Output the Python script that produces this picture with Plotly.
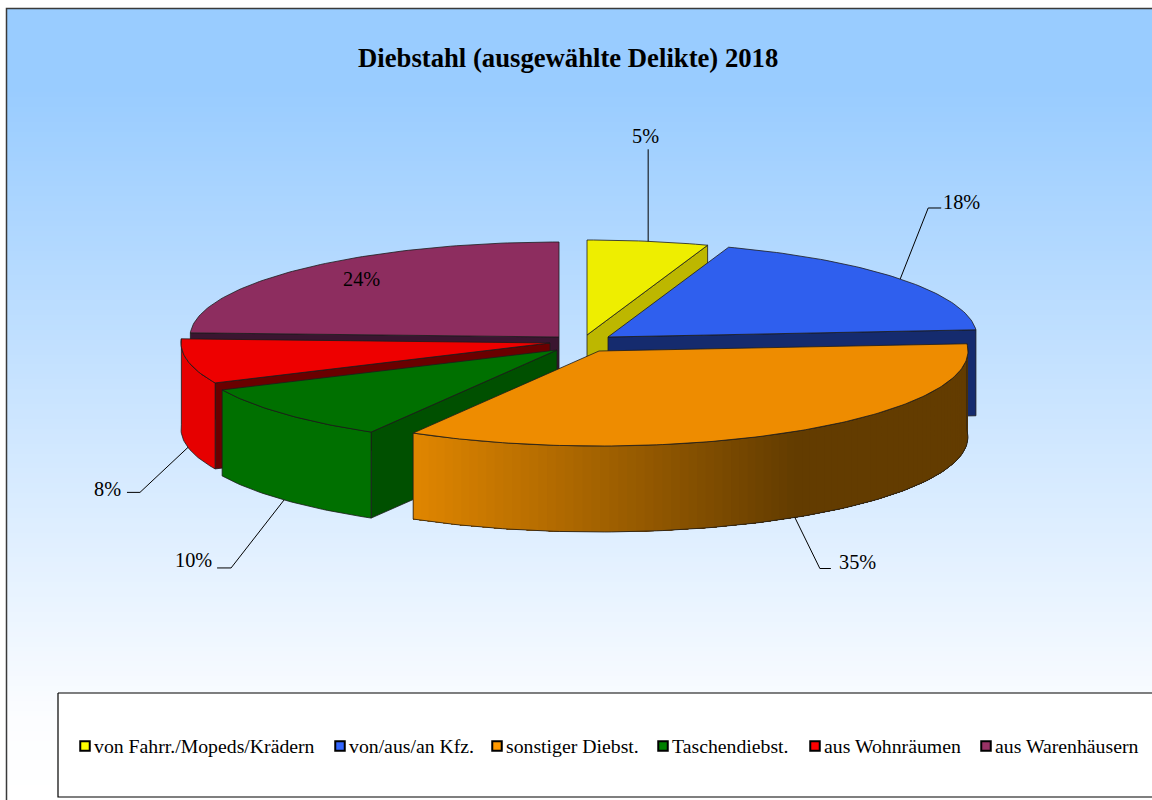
import math
import plotly.graph_objects as go

# ---- data ----
categories = ["von Fahrr./Mopeds/Krädern", "von/aus/an Kfz.", "sonstiger Diebst.",
              "Taschendiebst.", "aus Wohnräumen", "aus Warenhäusern"]
values = [5.3, 18.49, 34.61, 9.7, 7.6, 24.3]
title_text = "Diebstahl (ausgewählte Delikte) 2018"

# ---- styles ----
top_colors = ["#EEEE00", "#2F5FEE", "#EE8C00", "#007000", "#EE0000", "#8D2D5F"]
side_colors = ["#BDBD00", "#2F5FEE", "#633C00", "#007000", "#E60000", "#8D2D5F"]
face_colors = ["#BDB700", "#152B6E", "#633C00", "#005000", "#6A0000", "#3A1530"]
legend_colors = ["#FFFF00", "#3366FF", "#FF9900", "#008000", "#FF0000", "#993366"]
FONT = "Liberation Serif, Times New Roman, serif"
EDGE = "#1c1c1c"

# ---- pie projection ----
CX, CY = 575, 344
RX, RY, DEPTH = 369, 95, 86
pull_x = [12, 33, 24, -18, -25, -16]
pull_y = [-9, -7, 7, 6, -1, -7]
draw_order = [5, 0, 1, 4, 3, 2]

# ---- label layout: elbow and end offsets from the rim anchor; label centres ----
elbow = [(0, -92), (28, -71), (25, 51), (-53, 68), (-48, 45), None]
tail = [0, 13, 11, -14, -13, 0]
label_pos = [(645, 136), (961, 202), (857, 562), (193, 560), (107, 489), (361, 279)]
legend_x = [85, 340, 497, 663, 815, 986]
LEGEND_Y = 746


def rim(i, t, dz=0.0):
    r = math.radians(t)
    return (CX + pull_x[i] + RX * math.sin(r),
            CY + pull_y[i] - RY * math.cos(r) + dz)


def arc(i, a, b, dz=0.0, n=None):
    n = n or max(2, int(abs(b - a)) + 1)
    return [rim(i, a + (b - a) * k / (n - 1), dz) for k in range(n)]


def poly(pts, fill, line=EDGE, width=0.8):
    xs = [p[0] for p in pts] + [pts[0][0]]
    ys = [p[1] for p in pts] + [pts[0][1]]
    return go.Scatter(x=xs, y=ys, mode="lines", fill="toself", fillcolor=fill,
                      line=dict(color=line, width=width), hoverinfo="skip", showlegend=False)


total = sum(values)
starts, ends, acc = [], [], 0.0
for v in values:
    starts.append(acc / total * 360)
    acc += v
    ends.append(acc / total * 360)

fig = go.Figure()

# background gradient
rows = 160
y_edges = [8 + (800 - 8) * k / rows for k in range(rows + 1)]
fig.add_trace(go.Heatmap(x=[6, 1152], y=y_edges, z=[[k / (rows - 1)] for k in range(rows)],
                         colorscale=[[0, "#99CCFF"], [0.1, "#99CCFF"], [0.9, "#FCFDFF"], [1, "#FFFFFF"]],
                         showscale=False, hoverinfo="skip", zmin=0, zmax=1))

# legend box
fig.add_trace(poly([(58, 693), (1160, 693), (1160, 797), (58, 797)], "#FFFFFF", line="#000000", width=1.2))

for i in draw_order:
    a, b = starts[i], ends[i]
    ax = CX + pull_x[i]
    ay = CY + pull_y[i]
    # cut faces
    if 180 < a < 360:
        p = rim(i, a)
        fig.add_trace(poly([(ax, ay), p, (p[0], p[1] + DEPTH), (ax, ay + DEPTH)], face_colors[i]))
    if 0 < b < 180:
        p = rim(i, b)
        fig.add_trace(poly([(ax, ay), p, (p[0], p[1] + DEPTH), (ax, ay + DEPTH)], face_colors[i]))
    # outer wall
    if b > 90 and a < 270:
        if i == 2:  # shaded wall of the large slice: overlapping bands, no seams
            steps = 90
            tt = [a + (b - a) * k / steps for k in range(steps + 1)]
            x_left = rim(i, b)[0]
            for k in range(steps):
                q = arc(i, tt[k], b) + arc(i, b, tt[k], DEPTH)
                mx = rim(i, tt[k])[0]
                f = min(1.0, max(0.0, (mx - x_left) / 385))
                c0, c1 = (0xE2, 0x87, 0x00), (0x63, 0x3C, 0x00)
                col = "rgb(%d,%d,%d)" % tuple(round(c0[j] + (c1[j] - c0[j]) * f) for j in range(3))
                fig.add_trace(poly(q, col, line=col, width=0))
            outline = arc(i, a, b) + arc(i, b, a, DEPTH)
            xs = [p[0] for p in outline] + [outline[0][0]]
            ys = [p[1] for p in outline] + [outline[0][1]]
            fig.add_trace(go.Scatter(x=xs, y=ys, mode="lines", line=dict(color=EDGE, width=0.8),
                                     hoverinfo="skip", showlegend=False))
        else:
            fig.add_trace(poly(arc(i, a, b) + arc(i, b, a, DEPTH), side_colors[i]))
    # top face
    fig.add_trace(poly([(ax, ay)] + arc(i, a, b), top_colors[i]))

# leader lines
for i in range(len(values)):
    if elbow[i] is None:
        continue
    mid = (starts[i] + ends[i]) / 2
    dz = DEPTH if 90 < mid < 270 else 0
    p0 = rim(i, mid, dz)
    p1 = (p0[0] + elbow[i][0], p0[1] + elbow[i][1])
    p2 = (p1[0] + tail[i], p1[1])
    fig.add_trace(go.Scatter(x=[p0[0], p1[0], p2[0]], y=[p0[1], p1[1], p2[1]], mode="lines",
                             line=dict(color="#000000", width=1), hoverinfo="skip", showlegend=False))

# legend marks + text
fig.add_trace(go.Scatter(x=legend_x, y=[LEGEND_Y] * len(legend_x), mode="markers",
                         marker=dict(symbol="square", size=9.5, color=legend_colors,
                                     line=dict(color="#000000", width=2)),
                         hoverinfo="skip", showlegend=False))

ann = [dict(x=568, y=58, text="<b>%s</b>" % title_text, showarrow=False,
            font=dict(family=FONT, size=26.7, color="#000000"))]
for i, v in enumerate(values):
    ann.append(dict(x=label_pos[i][0], y=label_pos[i][1], text="%d%%" % round(v), showarrow=False,
                    font=dict(family=FONT, size=20.3, color="#000000")))
    ann.append(dict(x=legend_x[i] + 9, y=LEGEND_Y, text=categories[i], showarrow=False, xanchor="left",
                    xshift=-2, font=dict(family=FONT, size=19.75, color="#000000")))

fig.update_layout(
    width=1152, height=800, margin=dict(l=0, r=0, t=0, b=0),
    paper_bgcolor="#FFFFFF", plot_bgcolor="rgba(0,0,0,0)", showlegend=False,
    xaxis=dict(range=[0, 1152], visible=False, fixedrange=True),
    yaxis=dict(range=[800, 0], visible=False, fixedrange=True),
    annotations=ann,
    shapes=[
        dict(type="rect", x0=6.5, y0=8.5, x1=1160, y1=810, line=dict(color="#3a3a3a", width=1.5), layer="above"),
    ],
)
fig.write_html("out.html", config=dict(displayModeBar=False),
               post_script="document.body.style.margin='0';document.body.style.overflow='hidden';")
